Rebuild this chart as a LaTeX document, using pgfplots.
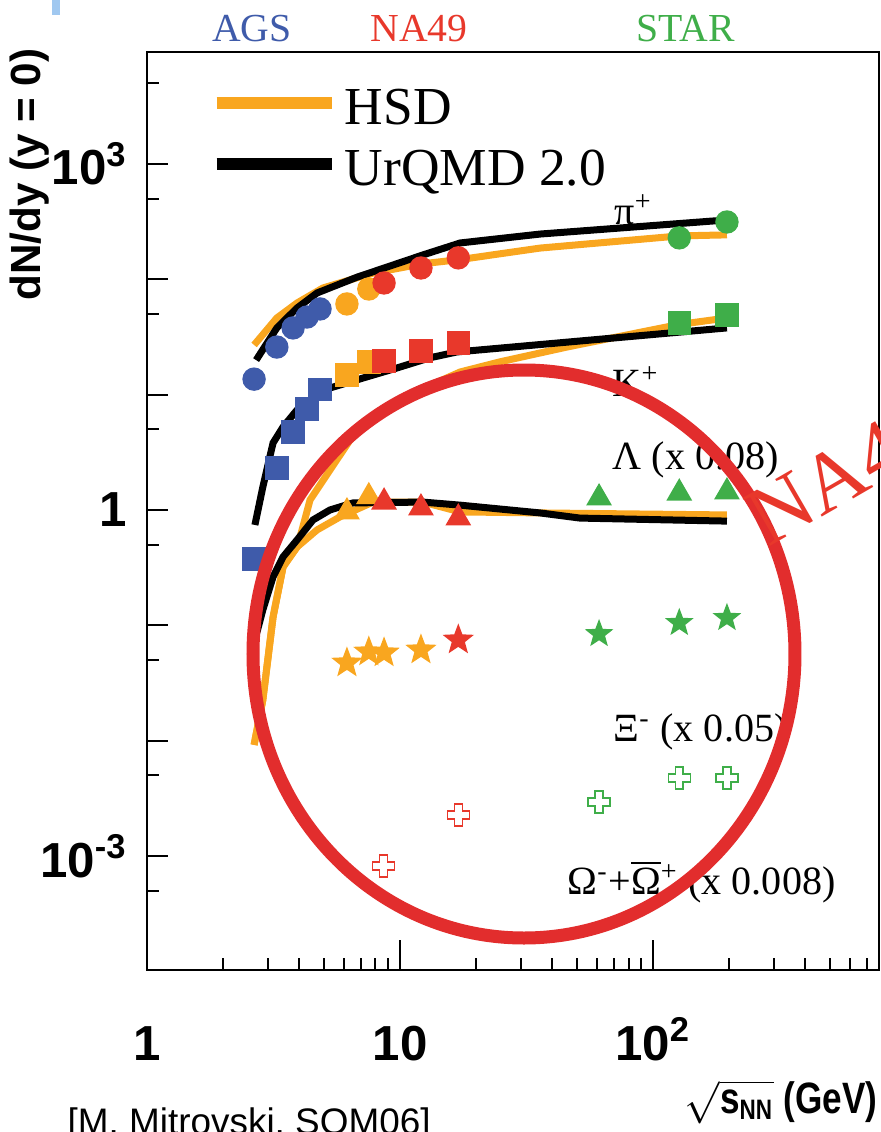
\documentclass[border=0pt]{standalone}
\usepackage{pgfplots}
\pgfplotsset{compat=1.18}
\usepackage{fontspec}
\setmainfont{Liberation Serif}
\newfontfamily\hv{Liberation Sans}
\newfontfamily\hvc[FakeStretch=0.8]{Liberation Sans}

\definecolor{agsblue}{RGB}{63,91,170}
\definecolor{nared}{RGB}{232,56,43}
\definecolor{hsdorange}{RGB}{249,166,31}
\definecolor{stargreen}{RGB}{63,174,73}
\definecolor{stampred}{RGB}{226,45,45}
\definecolor{slideblue}{RGB}{160,200,240}

% filled five-pointed star
\pgfdeclareplotmark{fstar}{%
  \pgfpathmoveto{\pgfpointpolar{90}{\pgfplotmarksize}}%
  \pgfpathlineto{\pgfpointpolar{126}{0.42\pgfplotmarksize}}%
  \pgfpathlineto{\pgfpointpolar{162}{\pgfplotmarksize}}%
  \pgfpathlineto{\pgfpointpolar{198}{0.42\pgfplotmarksize}}%
  \pgfpathlineto{\pgfpointpolar{234}{\pgfplotmarksize}}%
  \pgfpathlineto{\pgfpointpolar{270}{0.42\pgfplotmarksize}}%
  \pgfpathlineto{\pgfpointpolar{306}{\pgfplotmarksize}}%
  \pgfpathlineto{\pgfpointpolar{342}{0.42\pgfplotmarksize}}%
  \pgfpathlineto{\pgfpointpolar{18}{\pgfplotmarksize}}%
  \pgfpathlineto{\pgfpointpolar{54}{0.42\pgfplotmarksize}}%
  \pgfpathclose
  \pgfusepathqfillstroke}

% open cross
\pgfdeclareplotmark{ocross}{%
  \pgfpathmoveto{\pgfqpoint{-0.36\pgfplotmarksize}{\pgfplotmarksize}}%
  \pgfpathlineto{\pgfqpoint{0.36\pgfplotmarksize}{\pgfplotmarksize}}%
  \pgfpathlineto{\pgfqpoint{0.36\pgfplotmarksize}{0.36\pgfplotmarksize}}%
  \pgfpathlineto{\pgfqpoint{\pgfplotmarksize}{0.36\pgfplotmarksize}}%
  \pgfpathlineto{\pgfqpoint{\pgfplotmarksize}{-0.36\pgfplotmarksize}}%
  \pgfpathlineto{\pgfqpoint{0.36\pgfplotmarksize}{-0.36\pgfplotmarksize}}%
  \pgfpathlineto{\pgfqpoint{0.36\pgfplotmarksize}{-\pgfplotmarksize}}%
  \pgfpathlineto{\pgfqpoint{-0.36\pgfplotmarksize}{-\pgfplotmarksize}}%
  \pgfpathlineto{\pgfqpoint{-0.36\pgfplotmarksize}{-0.36\pgfplotmarksize}}%
  \pgfpathlineto{\pgfqpoint{-\pgfplotmarksize}{-0.36\pgfplotmarksize}}%
  \pgfpathlineto{\pgfqpoint{-\pgfplotmarksize}{0.36\pgfplotmarksize}}%
  \pgfpathlineto{\pgfqpoint{-0.36\pgfplotmarksize}{0.36\pgfplotmarksize}}%
  \pgfpathclose
  \pgfusepathqfillstroke}

\newcommand\lab{\fontsize{11.4}{13}\selectfont}

\begin{document}
\begin{tikzpicture}
\begin{axis}[
  name=main,
  scale only axis,
  width=73.2mm, height=91.8mm,
  xmode=log, ymode=log,
  xmin=1, xmax=782,
  ymin=1.03e-4, ymax=9.3e3,
  axis line style={line width=0.25mm},
  tick style={line width=0.2mm, black},
  tick align=inside,
  xtick pos=bottom, ytick pos=left,
  major tick length=2.1mm, minor tick length=1.2mm,
  xtick={1,10,100},
  xticklabels={1,10,10\textsuperscript{2}},
  minor xtick={2,3,4,5,6,7,8,9,20,30,40,50,60,70,80,90,200,300,400,500,600,700},
  ytick={1e-3,1e-2,1e-1,1,10,100,1e3},
  yticklabels={10\textsuperscript{-3},,,1,,,10\textsuperscript{3}},
  minor ytick={5e-4,5e-3,5e-2,0.5,5,50,500,5000},
  tick label style={font=\hv\bfseries\fontsize{14}{14}\selectfont, inner sep=0pt},
  xticklabel style={anchor=base, yshift=-9mm},
  yticklabel style={anchor=east, xshift=-1.9mm},
  legend style={draw=none, fill=none, at={(0.0861,0.9675)}, anchor=north west,
    inner sep=0pt, row sep=0.6mm, font=\fontsize{15.2}{16}\selectfont,
    /tikz/every odd column/.append style={column sep=0mm}},
  legend cell align=left,
  legend image code/.code={\draw[#1, line width=1.2mm] (0mm,0.2em) -- (11.5mm,0.2em);},
]
\addlegendimage{hsdorange}
\addlegendentry{HSD}
\addlegendimage{black}
\addlegendentry{UrQMD 2.0}

% ---- data: pi+ (circles)
\addplot[only marks, mark=*, mark size=1.1mm, agsblue, forget plot] coordinates {
  (2.65,13.6) (3.26,25.8) (3.78,37.8) (4.29,47.0) (4.83,55.2)};
\addplot[only marks, mark=*, mark size=1.1mm, hsdorange, forget plot] coordinates {
  (6.17,61.0) (7.53,82.2)};
\addplot[only marks, mark=*, mark size=1.1mm, nared, forget plot] coordinates {
  (8.65,92.7) (12.1,125) (17.0,153)};
\addplot[only marks, mark=*, mark size=1.1mm, stargreen, forget plot] coordinates {
  (127,228) (196,313)};

% ---- data: K+ (squares)
\addplot[only marks, mark=square*, mark size=1.1mm, agsblue, forget plot] coordinates {
  (2.65,0.376) (3.26,2.31) (3.78,4.74) (4.29,7.50) (4.83,11.0)};
\addplot[only marks, mark=square*, mark size=1.1mm, hsdorange, forget plot] coordinates {
  (6.17,14.8) (7.53,19.2)};
\addplot[only marks, mark=square*, mark size=1.1mm, nared, forget plot] coordinates {
  (8.65,19.5) (12.1,23.9) (17.0,28.0)};
\addplot[only marks, mark=square*, mark size=1.1mm, stargreen, forget plot] coordinates {
  (127,41.7) (196,48.9)};

% ---- data: Lambda x 0.08 (triangles)
\addplot[only marks, mark=triangle*, mark size=1.35mm, hsdorange, forget plot] coordinates {
  (6.17,0.961) (7.53,1.30)};
\addplot[only marks, mark=triangle*, mark size=1.35mm, nared, forget plot] coordinates {
  (8.65,1.17) (12.1,1.04) (17.0,0.852)};
\addplot[only marks, mark=triangle*, mark size=1.35mm, stargreen, forget plot] coordinates {
  (61.2,1.27) (127,1.40) (196,1.43)};

% ---- data: Xi- x 0.05 (stars)
\addplot[only marks, mark=fstar, mark size=1.45mm, hsdorange, forget plot] coordinates {
  (6.17,0.0472) (7.53,0.0588) (8.65,0.0577) (12.1,0.0612)};
\addplot[only marks, mark=fstar, mark size=1.45mm, nared, forget plot] coordinates {
  (17.0,0.0747)};
\addplot[only marks, mark=fstar, mark size=1.3mm, stargreen, forget plot] coordinates {
  (61.2,0.0842) (127,0.105) (196,0.116)};

% ---- data: Omega x 0.008 (open crosses)
\addplot[only marks, mark=ocross, mark size=1.1mm, forget plot,
  mark options={fill=white, draw=nared, line width=0.15mm}] coordinates {
  (8.6,8.22e-4) (17.0,2.28e-3)};
\addplot[only marks, mark=ocross, mark size=1.1mm, forget plot,
  mark options={fill=white, draw=stargreen, line width=0.15mm}] coordinates {
  (61.2,2.95e-3) (127,4.76e-3) (196,4.76e-3)};

% ---- HSD
\addplot[hsdorange, line width=0.7mm, forget plot] coordinates {
  (2.65,26.9) (3.26,46.1) (3.92,62.2) (4.96,83.9) (7.82,113) (12.3,136)
  (17.3,148) (35.8,186) (127,237) (196,242)};
\addplot[hsdorange, line width=0.7mm, forget plot] coordinates {
  (2.65,0.0092) (2.87,0.0226) (3.15,0.118) (3.45,0.321) (3.92,0.478)
  (4.10,0.671) (4.41,1.22) (5.29,2.22) (6.35,4.04) (8.34,7.07) (12.0,11.0)
  (17.3,15.7) (24.8,19.2) (45.7,25.8) (97,36) (127,40.5) (196,46.1)};
\addplot[hsdorange, line width=0.7mm, forget plot] coordinates {
  (2.65,0.0092) (2.87,0.0226) (3.15,0.118) (3.45,0.321) (3.92,0.478)
  (4.70,0.671) (5.79,0.870) (7.82,1.17) (12.3,1.17) (17.3,0.961)
  (35.8,0.942) (196,0.905)};

% ---- UrQMD 2.0
\addplot[black, line width=0.7mm, forget plot] coordinates {
  (2.70,19.9) (3.26,37.8) (3.92,56.3) (4.70,75.9) (6.76,104) (12.3,162)
  (17.3,206) (35.8,246) (196,326)};
\addplot[black, line width=0.7mm, forget plot] coordinates {
  (2.67,0.741) (2.87,1.58) (3.15,3.81) (3.45,5.24) (3.92,7.36) (4.53,9.35)
  (5.29,11.4) (7.14,13.9) (9.73,17.0) (13.1,20.8) (16.8,23.4) (196,37.8)};
\addplot[black, line width=0.7mm, forget plot] coordinates {
  (2.67,0.0747) (2.87,0.136) (3.15,0.263) (3.45,0.392) (3.92,0.550)
  (4.53,0.819) (5.29,1.0) (6.52,1.15) (12.3,1.17) (17.3,1.10) (35.8,0.942)
  (51.4,0.85) (196,0.80)};

% longer major x ticks
\draw[line width=0.2mm] (axis cs:10,1.03e-4) -- ++(0pt,3mm);
\draw[line width=0.2mm] (axis cs:100,1.03e-4) -- ++(0pt,3mm);
\end{axis}

% page furniture, in pixel units of the reference
\begin{scope}[shift={(main.south west)}, x=0.1mm, y=-0.1mm, shift={(-147,-970)}]
  \fill[slideblue] (52,0) rectangle (60,15);
  \node[anchor=base, text=agsblue, font=\fontsize{11.3}{13}\selectfont] at (252,41) {AGS};
  \node[anchor=base, text=nared, font=\fontsize{11.3}{13}\selectfont] at (419,41) {NA49};
  \node[anchor=base, text=stargreen, font=\fontsize{11.3}{13}\selectfont] at (686,41) {STAR};

  \node[rotate=90, anchor=east, inner sep=0pt, font=\hv\bfseries\fontsize{12}{14}\selectfont] at (30,48) {dN/dy (y = 0)};

  \node[anchor=base east, inner sep=0pt, font=\hvc\bfseries\fontsize{12.5}{14}\selectfont] at (878,1113)
    {$\sqrt{\mbox{\hvc\bfseries\fontsize{12.5}{14}\selectfont s}_{\mbox{\hvc\bfseries\fontsize{8}{9}\selectfont NN}}}$ (GeV)};
  \node[anchor=base west, inner sep=0pt, font=\hv\fontsize{10.5}{12}\selectfont] at (67,1134) {[M. Mitrovski, SQM06]};

  \node[anchor=west, inner sep=0pt, font=\lab] at (614,210) {π\textsuperscript{+}};
  \node[anchor=west, inner sep=0pt, font=\lab] at (612,382) {K\textsuperscript{+}};
  \node[anchor=west, inner sep=0pt, font=\lab] at (612,460) {Λ (x 0.08)};
  \node[anchor=west, inner sep=0pt, font=\lab] at (613,732) {Ξ\textsuperscript{-} (x 0.05)};
  \node[anchor=west, inner sep=0pt, font=\lab] at (567,882)
    {Ω\textsuperscript{-}+$\overline{\mbox{\lab Ω}}$\textsuperscript{+} (x 0.008)};

  \draw[stampred, line width=1.3mm] (524,654) ellipse [x radius=271, y radius=284];
  \node[rotate=30, anchor=base west, inner sep=0pt, text=nared, font=\fontsize{24}{26}\selectfont] at (768,548) {NA49};

  \pgfresetboundingbox
  \path[use as bounding box] (0,0) rectangle (881,1132);
\end{scope}
\end{tikzpicture}
\end{document}
